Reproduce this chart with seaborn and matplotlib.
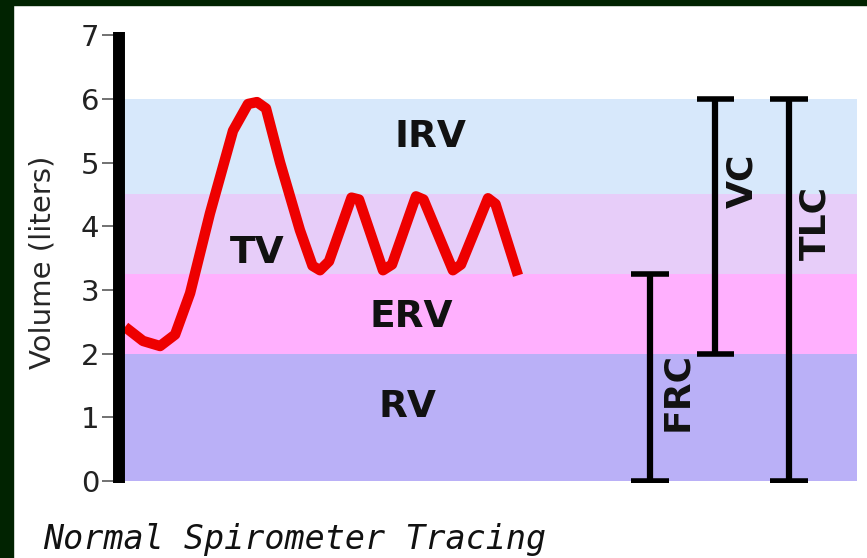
import matplotlib.pyplot as plt
import seaborn as sns
from matplotlib.patches import Rectangle

# lung volume bands (liters)
band_names = ['RV', 'ERV', 'TV', 'IRV']
band_lo = [0, 2, 3.25, 4.5]
band_hi = [2, 3.25, 4.5, 6]

# spirometer trace: time (s) vs volume (liters)
trace_t = [0.2, 0.8, 1.37, 1.87, 2.37, 3.03, 3.8, 4.3, 4.6, 4.9, 5.37, 6.03, 6.45,
           6.7, 7.0, 7.75, 8.0, 8.8, 9.1, 9.9, 10.15, 11.13, 11.4, 12.3, 12.55, 13.3]
trace_vol = [2.42, 2.2, 2.12, 2.3, 2.95, 4.2, 5.5, 5.92, 5.95, 5.85, 5.0, 3.94, 3.38,
             3.31, 3.45, 4.45, 4.42, 3.31, 3.4, 4.47, 4.42, 3.31, 3.4, 4.44, 4.35, 3.23]

# capacities shown as brackets
cap_names = ['FRC', 'VC', 'TLC']
cap_lo = [0, 2, 0]
cap_hi = [3.25, 6, 6]

yticks = [0, 1, 2, 3, 4, 5, 6, 7]

sns.set_style('white')
plt.rcParams['font.family'] = ['DejaVu Sans']
narrow = ['DejaVu Sans Condensed', 'DejaVu Sans']

fig = plt.figure(figsize=(8.67, 5.58), dpi=100)
fig.patch.set_facecolor('white')
fig.patches.append(Rectangle((0, 0), 13 / 867, 1, transform=fig.transFigure,
                             color='#012301', zorder=0))
fig.patches.append(Rectangle((0, 1 - 5 / 558), 1, 5 / 558, transform=fig.transFigure,
                             color='#012301', zorder=0))

ax = fig.add_axes([119 / 867, 75 / 558, 738 / 867, 451 / 558])
ax.set_xlim(0, 24.6)
ax.set_ylim(-0.03, 7.05)

band_colors = ['#bab0f7', '#ffb0fe', '#e7cdf9', '#d7e8fb']
for lo, hi, c in zip(band_lo, band_hi, band_colors):
    ax.axhspan(lo, hi, xmin=0, xmax=1, color=c, lw=0, zorder=0)

label_pos = {'RV': (9.6, 1.16), 'ERV': (9.75, 2.57), 'TV': (4.6, 3.58), 'IRV': (10.37, 5.4)}
for name in band_names:
    x, y = label_pos[name]
    ax.text(x, y, name, ha='center', va='center', fontsize=27, fontweight='bold',
            color='#111111', zorder=1)

sns.lineplot(x=trace_t, y=trace_vol, ax=ax, sort=False, color='#ee0000', linewidth=7.5,
             solid_joinstyle='round', solid_capstyle='butt', zorder=3)

cap_x = [17.7, 19.87, 22.33]
cap_text = [(18.62, 1.4), (20.78, 4.72), (23.22, 4.05)]
for name, x, lo, hi, (tx, ty) in zip(cap_names, cap_x, cap_lo, cap_hi, cap_text):
    ax.vlines(x, lo, hi, color='black', lw=4.5, zorder=2)
    ax.hlines([lo, hi], x - 0.62, x + 0.62, color='black', lw=4, zorder=2)
    ax.text(tx, ty, name, rotation=90, ha='center', va='center', fontsize=26,
            fontweight='bold', family=narrow, color='#111111', zorder=2)

for s in ['top', 'right', 'bottom']:
    ax.spines[s].set_visible(False)
ax.spines['left'].set_linewidth(8.6)
ax.spines['left'].set_color('black')
ax.spines['left'].set_capstyle('butt')
ax.spines['left'].set_zorder(4)

ax.set_xticks([])
ax.set_yticks(yticks)
ax.set_yticklabels([str(v) for v in yticks], fontsize=21, color='#222222')
ax.tick_params(axis='y', direction='out', length=12, width=1.3, color='#666666', pad=2,
               left=True)
ax.set_ylabel('Volume (liters)', fontsize=21, va='center', family=narrow)
ax.yaxis.set_label_coords(-0.104, 0.49)

fig.text(43 / 867, 1 - 549 / 558, 'Normal Spirometer Tracing', ha='left', va='baseline',
         fontsize=24, style='italic', family='DejaVu Sans Mono', color='#111111')

fig.savefig('out.png', dpi=100)
